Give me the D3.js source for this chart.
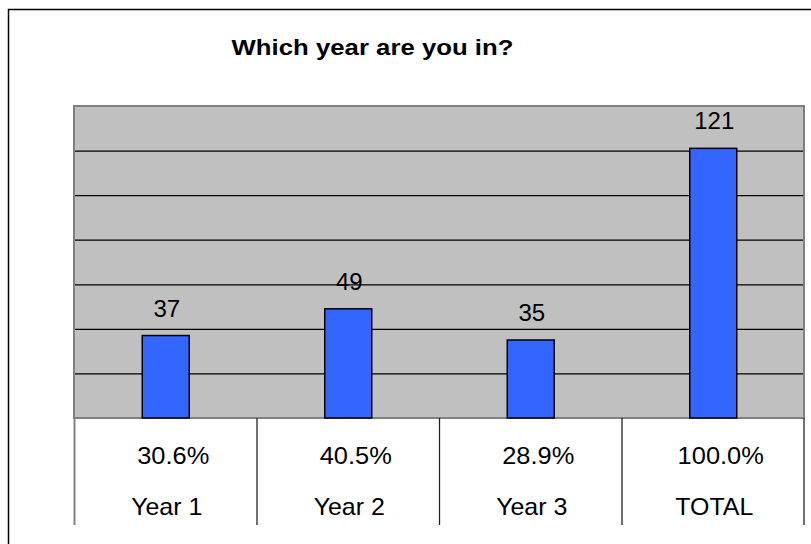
<!DOCTYPE html>
<html>
<head>
<meta charset="utf-8">
<script src="https://cdn.jsdelivr.net/npm/d3@7"></script>
<style>
  html, body { margin: 0; padding: 0; background: #fff; }
  svg { display: block; font-family: "Liberation Sans", Arial, sans-serif; }
</style>
</head>
<body>
<svg id="chart" width="811" height="544"></svg>
<script>
// Survey responses by year of study
const categories = ["Year 1", "Year 2", "Year 3", "TOTAL"];
const counts = [37, 49, 35, 121];
const shares = ["30.6%", "40.5%", "28.9%", "100.0%"];
const yTicks = [0, 20, 40, 60, 80, 100, 120, 140];

const svg = d3.select("#chart");
const plot = { left: 74, right: 804, top: 106, bottom: 418 };
const tableBottom = 525;

// Horizontally stretched text, anchored at its centre
function stretch(cx, sx) {
  return `translate(${cx},0) scale(${sx},1) translate(${-cx},0)`;
}

// Outer chart frame
svg.append("rect")
  .attr("x", 8.5).attr("y", 9.5)
  .attr("width", 900).attr("height", 600)
  .attr("fill", "#fff").attr("stroke", "#000").attr("stroke-width", 1.5);

// Title
svg.append("text")
  .attr("x", 372.5).attr("y", 55)
  .attr("text-anchor", "middle")
  .attr("font-size", 23).attr("font-weight", "bold")
  .attr("transform", stretch(372.5, 1.12))
  .text("Which year are you in?");

const x = d3.scaleBand()
  .domain(categories)
  .range([plot.left, plot.right])
  .paddingInner(0).paddingOuter(0);

const y = d3.scaleLinear()
  .domain([0, 140])
  .range([plot.bottom, plot.top]);

// Plot background
svg.append("rect")
  .attr("x", plot.left).attr("y", plot.top)
  .attr("width", plot.right - plot.left).attr("height", plot.bottom - plot.top)
  .attr("fill", "#c0c0c0");

// Horizontal gridlines
svg.append("g")
  .attr("transform", `translate(${plot.left},0)`)
  .call(d3.axisLeft(y).tickValues(yTicks.slice(1, -1))
    .tickSize(-(plot.right - plot.left)).tickFormat(""))
  .call(g => g.select(".domain").remove())
  .call(g => g.selectAll(".tick line").attr("stroke", "#000").attr("stroke-width", 1.2));

// Plot border
svg.append("rect")
  .attr("x", plot.left).attr("y", plot.top)
  .attr("width", plot.right - plot.left).attr("height", plot.bottom - plot.top)
  .attr("fill", "none").attr("stroke", "#808080").attr("stroke-width", 2);

// Bars
const barW = 47;
svg.append("g").selectAll("rect")
  .data(categories)
  .join("rect")
  .attr("x", (d) => x(d) + x.bandwidth() / 2 - barW / 2 + 0.5)
  .attr("y", (d, i) => y(counts[i]))
  .attr("width", barW)
  .attr("height", (d, i) => y(0) - y(counts[i]))
  .attr("fill", "#3366ff")
  .attr("stroke", "#000").attr("stroke-width", 1.5);

// Value labels
svg.append("g").selectAll("text")
  .data(categories)
  .join("text")
  .attr("x", (d) => x(d) + x.bandwidth() / 2 + 1.5)
  .attr("y", (d, i) => y(counts[i]) - 19)
  .attr("text-anchor", "middle")
  .attr("font-size", 24)
  .text((d, i) => counts[i]);

// Data table below the plot
const table = svg.append("g");
table.selectAll("line")
  .data(d3.range(categories.length + 1))
  .join("line")
  .attr("x1", (i) => i < categories.length ? x(categories[i]) + 0.5 : plot.right)
  .attr("x2", (i) => i < categories.length ? x(categories[i]) + 0.5 : plot.right)
  .attr("y1", plot.bottom)
  .attr("y2", tableBottom)
  .attr("stroke", (i) => i === 0 ? "#808080" : "#222")
  .attr("stroke-width", (i) => i === 0 ? 2 : 1.3);

function tableRow(values, baseline, dx, sx) {
  table.append("g").selectAll("text")
    .data(categories)
    .join("text")
    .attr("x", (d) => x(d) + x.bandwidth() / 2 + dx)
    .attr("y", baseline)
    .attr("text-anchor", "middle")
    .attr("font-size", 24)
    .attr("transform", (d) => stretch(x(d) + x.bandwidth() / 2 + dx, sx))
    .text((d, i) => values[i]);
}
tableRow(shares, 464, 8, 1.06);
tableRow(categories, 515, 1.5, 1.04);
</script>
</body>
</html>
